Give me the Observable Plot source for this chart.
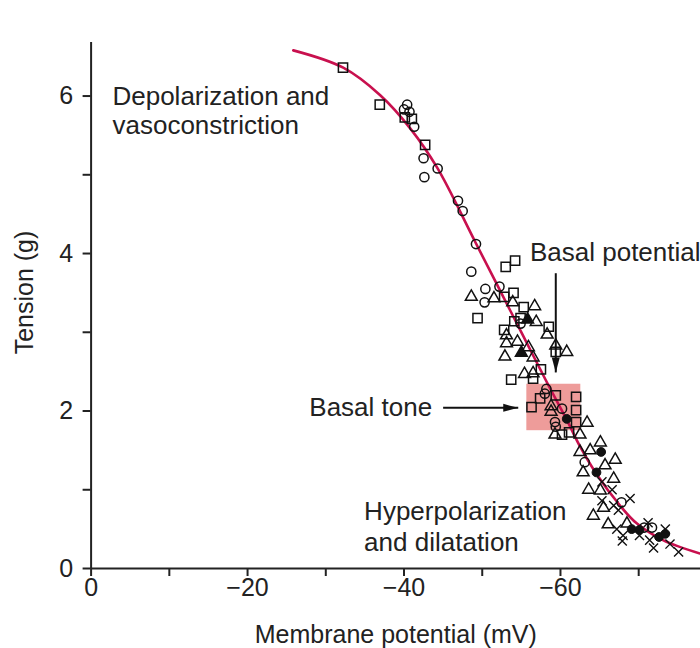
<!DOCTYPE html>
<html><head><meta charset="utf-8">
<script src="https://cdn.jsdelivr.net/npm/d3@7"></script>
<script src="https://cdn.jsdelivr.net/npm/@observablehq/plot@0.6"></script>
<style>body{margin:0;background:#fff} svg{display:block}</style>
</head><body><div id="chart"></div>
<script>
// Fitted curve (membrane potential mV, tension g)
const curveX = [-25.85,-32.23,-36.96,-40.79,-44.24,-49.09,-53.56,-58.03,-60.84,-62.50,-64.54,-67.61,-69.78,-73.10,-77.83];
const curveY = [6.58,6.36,6.01,5.59,5.09,4.15,3.28,2.41,1.88,1.55,1.21,0.80,0.57,0.36,0.19];

// Observations
const openCircles = [[-40.4,5.89],[-40.0,5.83],[-40.7,5.80],[-41.3,5.61],[-42.5,5.21],[-42.6,4.97],[-44.3,5.08],[-46.9,4.67],[-47.5,4.54],[-49.2,4.12],[-48.6,3.77],[-52.2,3.58],[-50.4,3.55],[-50.3,3.38],[-54.9,3.11],[-58.2,2.28],[-58.0,2.22],[-60.2,2.03],[-59.3,1.86],[-59.4,1.80],[-63.1,1.35],[-67.8,0.84],[-70.7,0.52],[-71.7,0.52]];
const openSquares = [[-32.2,6.36],[-36.9,5.89],[-40.1,5.73],[-41.0,5.71],[-42.7,5.38],[-53.0,3.83],[-54.2,3.91],[-52.8,3.45],[-54.0,3.50],[-55.3,3.32],[-49.4,3.18],[-54.1,3.14],[-54.9,3.18],[-58.5,3.07],[-52.8,3.03],[-59.4,2.75],[-57.5,2.53],[-53.7,2.40],[-56.5,2.41],[-57.4,2.16],[-59.4,2.20],[-62.0,2.18],[-56.3,2.05],[-62.0,2.01],[-62.0,1.86],[-60.2,1.70],[-61.1,1.73]];
const openTriangles = [[-48.6,3.45],[-51.5,3.43],[-53.9,3.38],[-56.7,3.33],[-56.9,3.13],[-58.3,2.97],[-53.1,2.96],[-54.5,2.88],[-53.1,2.86],[-52.9,2.69],[-55.9,2.81],[-56.5,2.68],[-59.4,2.83],[-60.8,2.75],[-55.4,2.47],[-56.5,2.48],[-58.8,2.06],[-58.8,1.99],[-63.4,1.85],[-59.3,1.70],[-62.5,1.70],[-62.5,1.48],[-63.8,1.50],[-65.1,1.60],[-65.7,1.31],[-67.0,1.38],[-62.9,1.22],[-66.8,1.14],[-63.6,1.00],[-65.1,0.99],[-65.5,0.77],[-64.2,0.67],[-66.1,0.56],[-68.5,0.57]];
const filledTriangles = [[-55.8,3.16],[-55.0,2.74]];
const filledCircles = [[-60.8,1.90],[-65.2,1.48],[-64.6,1.22],[-69.1,0.50],[-70.1,0.49],[-72.6,0.40],[-73.4,0.44]];
const crosses = [[-65.3,1.10],[-66.6,1.00],[-65.3,0.86],[-68.9,0.89],[-66.8,0.80],[-67.4,0.74],[-67.2,0.50],[-68.0,0.42],[-67.9,0.35],[-71.2,0.58],[-70.1,0.42],[-71.4,0.36],[-71.9,0.26],[-73.4,0.50],[-74.0,0.31],[-75.1,0.21]];

// Basal tone box (mV range, tension range)
const basalBox = [{x1:-55.7, x2:-62.6, y1:1.75, y2:2.34}];

// Ticks
const xTicks = [0,-10,-20,-30,-40,-50,-60,-70];
const xLabeled = [0,-20,-40,-60];
const yTicks = [0,1,2,3,4,5,6];
const yLabeled = [0,2,4,6];

// Annotations
const notesStart = [
  {text:"Depolarization and", x:-2.73, y:5.99},
  {text:"vasoconstriction", x:-2.73, y:5.63},
  {text:"Basal potential", x:-56.1, y:4.01},
  {text:"Hyperpolarization", x:-34.9, y:0.72},
  {text:"and dilatation", x:-34.9, y:0.33}
];
const notesEnd = [{text:"Basal tone", x:-43.6, y:2.04}];
const arrows = [
  {x1:-45.0, y1:2.04, x2:-54.6, y2:2.04, rot:90},
  {x1:-59.4, y1:3.75, x2:-59.4, y2:2.49, rot:180}
];

const curve = curveX.map((x,i)=>({x, y:curveY[i]}));
const pts = a => a.map(([x,y])=>({x,y}));
const fmt = d => xLabeled.includes(d) ? (d === 0 ? "0" : "\u2212" + Math.abs(d)) : "";
const fmtY = d => yLabeled.includes(d) ? String(d) : "";
const head = {draw(ctx){ ctx.moveTo(0,0); ctx.lineTo(4,15); ctx.lineTo(-4,15); ctx.closePath(); }};

const ink = "#222";
const chart = Plot.plot({
  width: 700, height: 648,
  marginLeft: 90.6, marginRight: 0, marginTop: 42, marginBottom: 80,
  style: {fontFamily: "'Liberation Sans', Arial, Helvetica, sans-serif", fontSize: "25px", color: ink, background: "#fff"},
  x: {domain: [0, -77.9]},
  y: {domain: [0, 6.68]},
  marks: [
    Plot.rect(basalBox, {x1:"x1", x2:"x2", y1:"y1", y2:"y2", fill:"#ee9c9a"}),
    Plot.line(curve, {x:"x", y:"y", curve:"catmull-rom", stroke:"#c8104e", strokeWidth:2.6}),
    Plot.dot(pts(openCircles), {x:"x", y:"y", r:4.6, stroke:"#111", strokeWidth:1.5, fill:"none"}),
    Plot.dot(pts(openSquares), {x:"x", y:"y", symbol:"square", r:5.2, stroke:"#111", strokeWidth:1.5, fill:"none"}),
    Plot.dot(pts(openTriangles), {x:"x", y:"y", symbol:"triangle", r:4.4, stroke:"#111", strokeWidth:1.5, fill:"none"}),
    Plot.dot(pts(filledTriangles), {x:"x", y:"y", symbol:"triangle", r:4.4, stroke:"#111", strokeWidth:1.5, fill:"#111"}),
    Plot.dot(pts(filledCircles), {x:"x", y:"y", r:4.4, stroke:"#111", strokeWidth:1, fill:"#111"}),
    Plot.dot(pts(crosses), {x:"x", y:"y", symbol:"times", r:4.2, stroke:"#111", strokeWidth:1.4}),
    Plot.link(arrows, {x1:"x1", y1:"y1", x2:"x2", y2:"y2", stroke:"#111", strokeWidth:2}),
    Plot.dot(arrows, {x:"x2", y:"y2", symbol:head, rotate:"rot", fill:"#111", stroke:"none"}),
    Plot.text(notesStart, {x:"x", y:"y", text:"text", textAnchor:"start", fill:ink, fontSize:26}),
    Plot.text(notesEnd, {x:"x", y:"y", text:"text", textAnchor:"end", fill:ink, fontSize:26}),
    Plot.ruleY([0], {stroke:"#222", strokeWidth:2}),
    Plot.ruleX([0], {stroke:"#222", strokeWidth:2}),
    Plot.axisX(xTicks, {tickSize:8, tickPadding:2, tickFormat:fmt, strokeWidth:2, stroke:"#222", fill:ink, label:null}),
    Plot.axisY(yTicks, {tickSize:8, tickPadding:10, tickFormat:fmtY, strokeWidth:2, stroke:"#222", fill:ink, label:null}),
    Plot.text(["Membrane potential (mV)"], {frameAnchor:"bottom", dy:66, textAnchor:"middle", lineAnchor:"middle", fill:ink}),
    Plot.text(["Tension (g)"], {frameAnchor:"left", dx:-66, dy:-13, rotate:-90, textAnchor:"middle", lineAnchor:"middle", fill:ink})
  ]
});
document.getElementById("chart").append(chart);
</script>
</body></html>
